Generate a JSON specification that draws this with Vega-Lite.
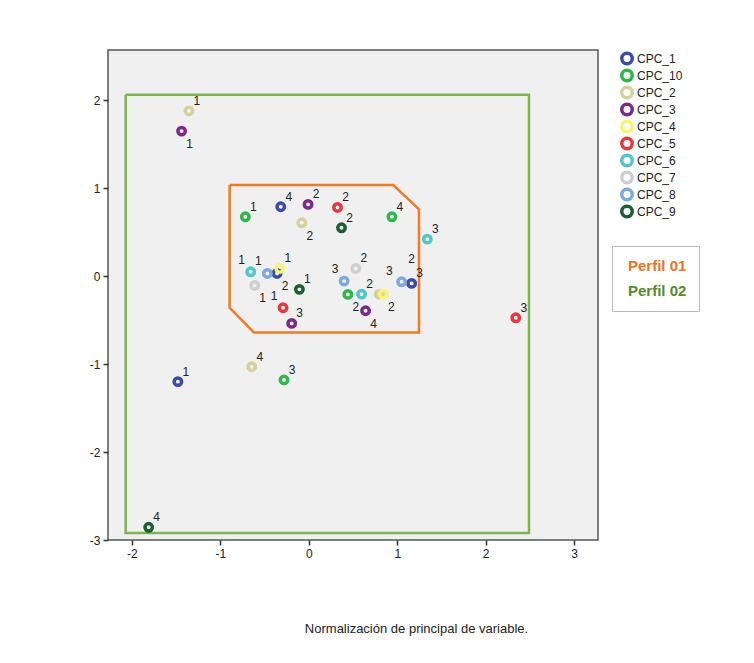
{
  "$schema": "https://vega.github.io/schema/vega-lite/v6.json",
  "width": 490,
  "height": 490,
  "autosize": {"type": "none"},
  "padding": {"left": 108, "top": 50, "right": 156, "bottom": 123},
  "background": "white",
  "config": {
    "font": "Liberation Sans",
    "view": {"fill": "#f0f0f0", "stroke": "#555555", "strokeWidth": 1.5},
    "axis": {
      "labelFont": "Liberation Sans",
      "labelFontSize": 12,
      "labelColor": "#222222",
      "tickColor": "#333333",
      "tickSize": 5,
      "tickWidth": 1.5,
      "domain": false,
      "grid": false,
      "labelPadding": 3,
      "labelExpr": "'' + datum.value"
    },
    "text": {"fontSize": 12, "font": "Liberation Sans", "color": "#222222", "align": "center", "baseline": "middle"}
  },
  "datasets": {
    "points": [
      {"var": "CPC_1", "cat": "4", "x": -0.317, "y": 0.788},
      {"var": "CPC_1", "cat": "1", "x": -1.48, "y": -1.2},
      {"var": "CPC_1", "cat": "3", "x": 1.163, "y": -0.083},
      {"var": "CPC_1", "cat": "2", "x": -0.359, "y": 0.03},
      {"var": "CPC_10", "cat": "1", "x": -0.717, "y": 0.674},
      {"var": "CPC_10", "cat": "4", "x": 0.94, "y": 0.674},
      {"var": "CPC_10", "cat": "2", "x": 0.442, "y": -0.208},
      {"var": "CPC_10", "cat": "3", "x": -0.28, "y": -1.18},
      {"var": "CPC_2", "cat": "1", "x": -1.355, "y": 1.878},
      {"var": "CPC_2", "cat": "2", "x": -0.079, "y": 0.606},
      {"var": "CPC_2", "cat": "4", "x": -0.645, "y": -1.03},
      {"var": "CPC_2", "cat": "3", "x": 0.797, "y": -0.205},
      {"var": "CPC_3", "cat": "1", "x": -1.438, "y": 1.648},
      {"var": "CPC_3", "cat": "2", "x": -0.008, "y": 0.815},
      {"var": "CPC_3", "cat": "3", "x": -0.193, "y": -0.538},
      {"var": "CPC_3", "cat": "4", "x": 0.642, "y": -0.394},
      {"var": "CPC_4", "cat": "1", "x": -0.328, "y": 0.087},
      {"var": "CPC_4", "cat": "2", "x": 0.842, "y": -0.205},
      {"var": "CPC_5", "cat": "2", "x": 0.325, "y": 0.78},
      {"var": "CPC_5", "cat": "1", "x": -0.291, "y": -0.36},
      {"var": "CPC_5", "cat": "3", "x": 2.34, "y": -0.474},
      {"var": "CPC_6", "cat": "3", "x": 1.34, "y": 0.42},
      {"var": "CPC_6", "cat": "1", "x": -0.657, "y": 0.049},
      {"var": "CPC_6", "cat": "2", "x": 0.597, "y": -0.205},
      {"var": "CPC_7", "cat": "1", "x": -0.612, "y": -0.106},
      {"var": "CPC_7", "cat": "2", "x": 0.532, "y": 0.087},
      {"var": "CPC_8", "cat": "1", "x": -0.468, "y": 0.03},
      {"var": "CPC_8", "cat": "3", "x": 0.4, "y": -0.057},
      {"var": "CPC_8", "cat": "2", "x": 1.05, "y": -0.065},
      {"var": "CPC_9", "cat": "2", "x": 0.37, "y": 0.549},
      {"var": "CPC_9", "cat": "1", "x": -0.106, "y": -0.151},
      {"var": "CPC_9", "cat": "4", "x": -1.81, "y": -2.856}
    ],
    "shapes": [
      {"perfil": "Perfil 01", "seq": 1, "x": -0.895, "y": 1.034},
      {"perfil": "Perfil 01", "seq": 2, "x": 0.955, "y": 1.034},
      {"perfil": "Perfil 01", "seq": 3, "x": 1.246, "y": 0.758},
      {"perfil": "Perfil 01", "seq": 4, "x": 1.246, "y": -0.64},
      {"perfil": "Perfil 01", "seq": 5, "x": -0.62, "y": -0.64},
      {"perfil": "Perfil 01", "seq": 6, "x": -0.895, "y": -0.36},
      {"perfil": "Perfil 01", "seq": 7, "x": -0.895, "y": 1.034},
      {"perfil": "Perfil 02", "seq": 1, "x": -2.07, "y": 2.06},
      {"perfil": "Perfil 02", "seq": 2, "x": 2.49, "y": 2.06},
      {"perfil": "Perfil 02", "seq": 3, "x": 2.49, "y": -2.92},
      {"perfil": "Perfil 02", "seq": 4, "x": -2.07, "y": -2.92},
      {"perfil": "Perfil 02", "seq": 5, "x": -2.07, "y": 2.06}
    ]
  },
  "layer": [
    {
      "data": {"name": "shapes"},
      "mark": {"type": "line", "strokeWidth": 2.5, "strokeJoin": "miter"},
      "encoding": {
        "x": {"field": "x", "type": "quantitative",
          "scale": {"domain": [-2.27, 3.27], "nice": false, "zero": false},
          "axis": {"values": [-2, -1, 0, 1, 2, 3], "title": "Normalización de principal de variable.",
            "titleFont": "Liberation Sans", "titleFontSize": 13, "titleFontWeight": "normal", "titleColor": "#222222",
            "titleX": 308, "titleY": 88, "titleBaseline": "middle", "titleAlign": "center", "titleAnchor": null}},
        "y": {"field": "y", "type": "quantitative",
          "scale": {"domain": [-3, 2.57], "nice": false, "zero": false},
          "axis": {"values": [-3, -2, -1, 0, 1, 2], "title": null}},
        "order": {"field": "seq", "type": "quantitative"},
        "color": {"field": "perfil", "type": "nominal",
          "scale": {"domain": ["Perfil 01", "Perfil 02"], "range": ["#f47a20", "#7db451"]},
          "legend": {
            "orient": "none", "legendX": 504, "legendY": 196, "title": null,
            "symbolSize": 0, "symbolStrokeWidth": 0, "symbolOpacity": 0, "labelOffset": -11,
            "labelFont": "Liberation Sans", "labelFontSize": 15, "labelFontWeight": "bold",
            "rowPadding": 9, "padding": 12,
            "fillColor": "white", "strokeColor": "#bbbbbb",
            "encode": {"labels": {"update": {"fill": {"signal": "datum.label === 'Perfil 01' ? '#ee7420' : '#568b30'"}}}}
          }}
      }
    },
    {
      "data": {"name": "points"},
      "mark": {"type": "point", "filled": false, "size": 55, "strokeWidth": 3.5, "opacity": 1},
      "encoding": {
        "x": {"field": "x", "type": "quantitative"},
        "y": {"field": "y", "type": "quantitative"},
        "stroke": {"field": "var", "type": "nominal",
          "scale": {"domain": ["CPC_1", "CPC_10", "CPC_2", "CPC_3", "CPC_4", "CPC_5", "CPC_6", "CPC_7", "CPC_8", "CPC_9"],
            "range": ["#3b4ca8", "#2fb84a", "#d6d19c", "#7a2a8c", "#f7f56e", "#e8383f", "#4ec7c9", "#cfcfcf", "#7ea9dc", "#1b5e2f"]},
          "legend": {
            "orient": "none", "legendX": 512, "legendY": 0, "title": null,
            "symbolType": "circle", "symbolSize": 110, "symbolStrokeWidth": 3.5, "symbolFillColor": "transparent",
            "labelFont": "Liberation Sans", "labelFontSize": 12, "labelColor": "#222222", "labelOffset": 3,
            "clipHeight": 17, "rowPadding": 0, "padding": 0
          }}
      }
    },
    {
      "data": {"name": "points"},
      "transform": [{"filter": "indexof(['CPC_2|2','CPC_3|1','CPC_1|2','CPC_7|1','CPC_10|2','CPC_3|4','CPC_4|2','CPC_6|1','CPC_8|1','CPC_5|1','CPC_8|3','CPC_2|3','CPC_8|2'], datum.var + '|' + datum.cat) < 0"}],
      "mark": {"type": "text", "dx": 8, "dy": -10},
      "encoding": {
        "x": {"field": "x", "type": "quantitative"},
        "y": {"field": "y", "type": "quantitative"},
        "text": {"field": "cat", "type": "nominal"}
      }
    },
    {
      "data": {"name": "points"},
      "transform": [{"filter": "indexof(['CPC_2|2','CPC_3|1','CPC_1|2','CPC_7|1','CPC_10|2','CPC_3|4','CPC_4|2'], datum.var + '|' + datum.cat) >= 0"}],
      "mark": {"type": "text", "dx": 8, "dy": 13},
      "encoding": {
        "x": {"field": "x", "type": "quantitative"},
        "y": {"field": "y", "type": "quantitative"},
        "text": {"field": "cat", "type": "nominal"}
      }
    },
    {
      "data": {"name": "points"},
      "transform": [{"filter": "indexof(['CPC_6|1','CPC_8|1','CPC_5|1','CPC_8|3'], datum.var + '|' + datum.cat) >= 0"}],
      "mark": {"type": "text", "dx": -9, "dy": -12},
      "encoding": {
        "x": {"field": "x", "type": "quantitative"},
        "y": {"field": "y", "type": "quantitative"},
        "text": {"field": "cat", "type": "nominal"}
      }
    },
    {
      "data": {"name": "points"},
      "transform": [{"filter": "indexof(['CPC_2|3','CPC_8|2'], datum.var + '|' + datum.cat) >= 0"}],
      "mark": {"type": "text", "dx": 10, "dy": -23},
      "encoding": {
        "x": {"field": "x", "type": "quantitative"},
        "y": {"field": "y", "type": "quantitative"},
        "text": {"field": "cat", "type": "nominal"}
      }
    }
  ]
}
